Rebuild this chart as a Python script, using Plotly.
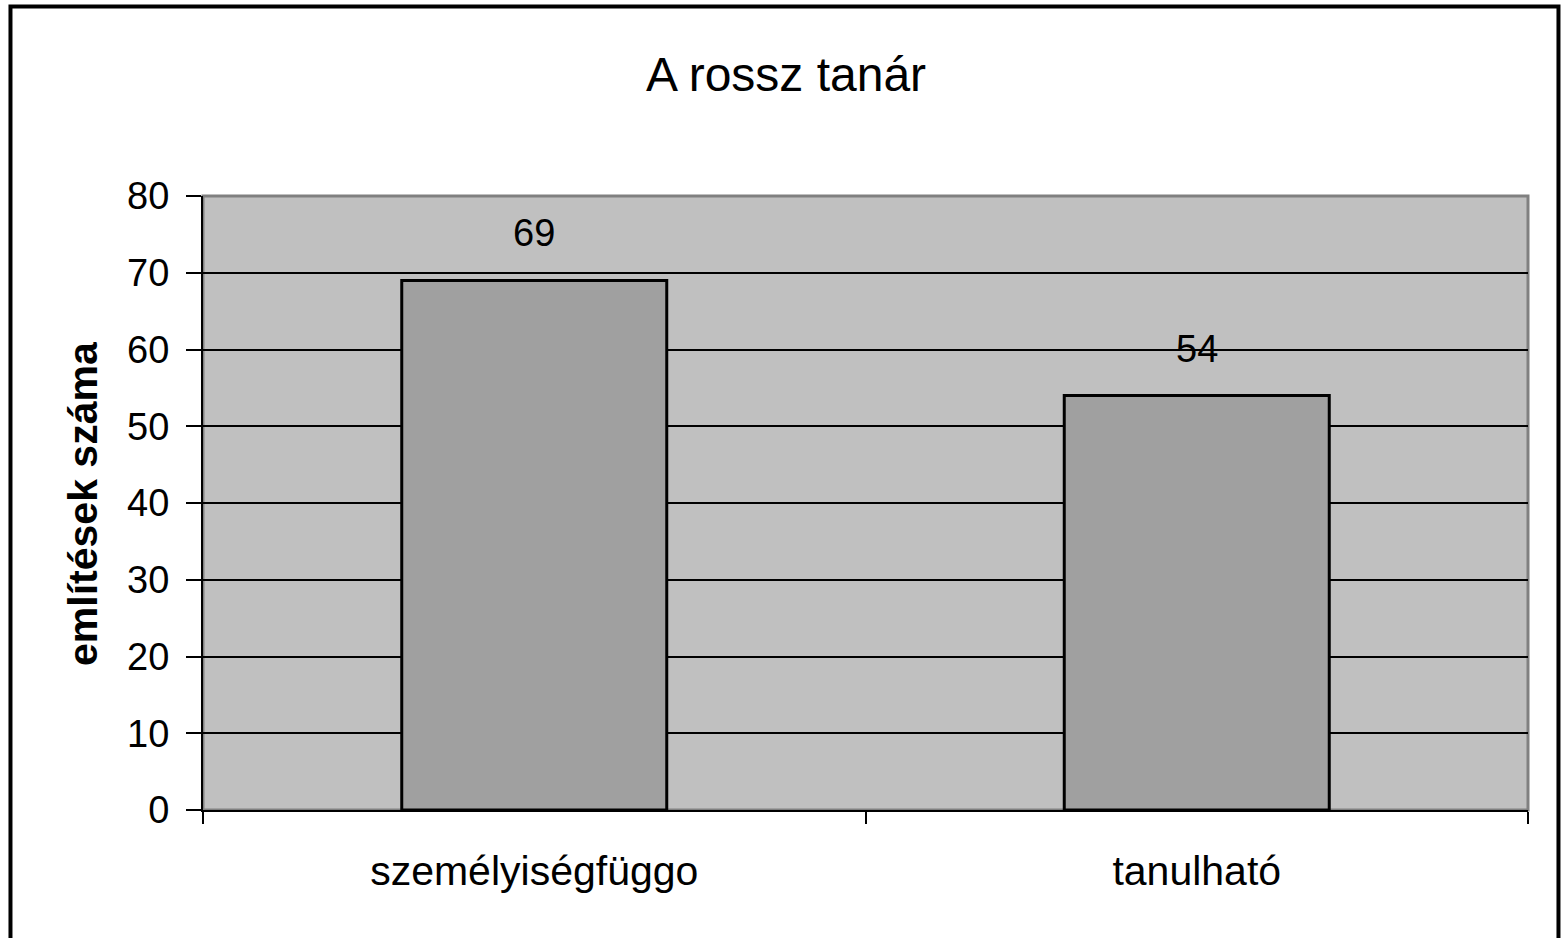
import plotly.graph_objects as go

categories = ["személyiségfüggo", "tanulható"]
values = [69, 54]
title_text = "A rossz tanár"
y_title = "említések száma"

FONT = "Liberation Sans, Arial, sans-serif"

fig = go.Figure()
fig.add_trace(go.Bar(
    x=categories, y=values, width=0.4,
    marker=dict(color="#A0A0A0", line=dict(color="black", width=3)),
    showlegend=False, hoverinfo="x+y",
))

for c, v in zip(categories, values):
    fig.add_annotation(x=c, y=v, text=str(v), showarrow=False, yanchor="middle",
                       yshift=47, font=dict(family=FONT, size=38, color="black"))

fig.add_annotation(xref="paper", yref="paper", x=-0.0906, y=0.5, text="<b>%s</b>" % y_title,
                   textangle=-90, showarrow=False, xanchor="center", yanchor="middle",
                   font=dict(family=FONT, size=41, color="black"))

# plot area gray frame
fig.add_shape(type="rect", xref="x domain", yref="y domain", x0=0, x1=1, y0=0, y1=1,
              line=dict(color="#808080", width=3), layer="below")
# outer figure border
fig.add_shape(type="rect", xref="paper", yref="paper", x0=-0.1453, x1=1.0230, y0=-0.25, y1=1.3086,
              line=dict(color="black", width=4))

fig.update_layout(
    width=1563, height=938,
    margin=dict(l=203, r=35, t=196, b=128),
    paper_bgcolor="white", plot_bgcolor="#C0C0C0",
    title=dict(text=title_text, x=786 / 1563, xanchor="center", y=1 - 74 / 938, yanchor="middle",
               font=dict(family=FONT, size=48, color="black")),
    font=dict(family=FONT, color="black"),
    bargap=0.6,
)
fig.update_xaxes(showline=True, linecolor="black", linewidth=2, ticks="outside", tickson="boundaries",
                 ticklen=12, tickwidth=2, tickcolor="black", showgrid=False,
                 tickfont=dict(family=FONT, size=41, color="black"), ticklabelstandoff=24)
fig.update_yaxes(range=[0, 80], dtick=10, showline=True, linecolor="black", linewidth=2,
                 ticks="outside", ticklen=15, tickwidth=2, tickcolor="black",
                 showgrid=True, gridcolor="black", gridwidth=1.5, zeroline=False,
                 tickfont=dict(family=FONT, size=38, color="black"), ticklabelstandoff=9)

fig.write_html("out.html", config={"displayModeBar": False},
               post_script="document.body.style.margin='0';document.body.style.overflow='hidden';")
